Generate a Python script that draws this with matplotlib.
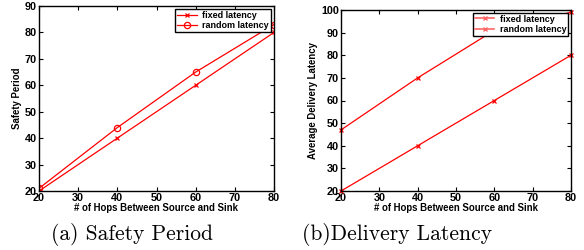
import matplotlib
matplotlib.use("Agg")
import matplotlib.pyplot as plt
from matplotlib.lines import Line2D

hops = [20, 40, 60, 80]
safety_fixed = [20, 40, 60, 80]
safety_random = [21, 44, 65, 83]
delay_fixed = [20, 40, 60, 80]
delay_random = [47, 70, 91, 99]

plt.rcParams['font.family'] = ['Liberation Sans', 'DejaVu Sans']

fig = plt.figure(figsize=(5.84, 2.5), dpi=100)
W, H = 584, 250

def ax_at(l, t, r, b):
    return fig.add_axes([l / W, 1 - b / H, (r - l) / W, (b - t) / H])

def style(ax, ylim, ylabel):
    ax.set_xlim(20, 80)
    ax.set_ylim(*ylim)
    ax.set_xticks(range(20, 81, 10))
    ax.set_yticks(range(ylim[0], ylim[1] + 1, 10))
    ax.tick_params(direction='in', top=True, right=True, length=3, width=0.8,
                   labelsize=7.8, pad=1.5)
    for lab in ax.get_xticklabels() + ax.get_yticklabels():
        lab.set_fontweight('bold')
    for s in ax.spines.values():
        s.set_linewidth(1.0)
    ax.set_xlabel('# of Hops Between Source and Sink', fontsize=6.9, fontweight='bold', labelpad=0)
    ax.set_ylabel(ylabel, fontsize=6.9, fontweight='bold', labelpad=2)

ax1 = ax_at(39, 6, 274, 191)
ax1.plot(hops, safety_fixed, color='red', lw=0.9, marker='x', ms=3, mew=0.9)
ax1.plot(hops, safety_random, color='red', lw=0.9, marker='o', ms=4.5, mfc='none', mew=0.9)
style(ax1, (20, 90), 'Safety Period')
h1 = [Line2D([], [], color='red', lw=0.9, marker='x', ms=3, mew=0.9),
      Line2D([], [], color='red', lw=0.9, marker='o', ms=4.5, mfc='none', mew=0.9)]
leg1 = ax1.legend(h1, ['fixed latency', 'random latency'], loc='upper right',
                  prop={'size': 6.5, 'weight': 'bold'}, fancybox=False, edgecolor='black',
                  framealpha=1, borderpad=0.2, handlelength=2.2, labelspacing=0.15,
                  handletextpad=0.6, borderaxespad=0.35)
leg1.get_frame().set_linewidth(1.0)

ax2 = ax_at(341, 10, 571, 191)
ax2.plot(hops, delay_fixed, color='red', lw=0.9, marker='x', ms=3, mew=0.9, clip_on=False)
ax2.plot(hops, delay_random, color='red', lw=0.9, marker='x', ms=3, mew=0.9, clip_on=False)
style(ax2, (20, 100), 'Average Delivery Latency')
h2 = [Line2D([], [], color='#ff6666', lw=1.2, marker='x', ms=3, mew=1.0),
      Line2D([], [], color='#ff6666', lw=1.2, marker='x', ms=3, mew=1.0)]
leg2 = ax2.legend(h2, ['fixed latency', 'random latency'], loc='upper right',
                  prop={'size': 6.5, 'weight': 'bold'}, fancybox=False, edgecolor='black',
                  framealpha=1, borderpad=0.2, handlelength=2.2, labelspacing=0.15,
                  handletextpad=0.6, borderaxespad=0.3)
leg2.get_frame().set_linewidth(1.0)

fig.text(132 / W, 1 - 234 / H, '(a) Safety Period', ha='center', va='center',
         fontsize=15.5, family='cmr10')
fig.text(397 / W, 1 - 234 / H, '(b)Delivery Latency', ha='center', va='center',
         fontsize=15.5, family='cmr10')

fig.savefig('out.png', dpi=100)
